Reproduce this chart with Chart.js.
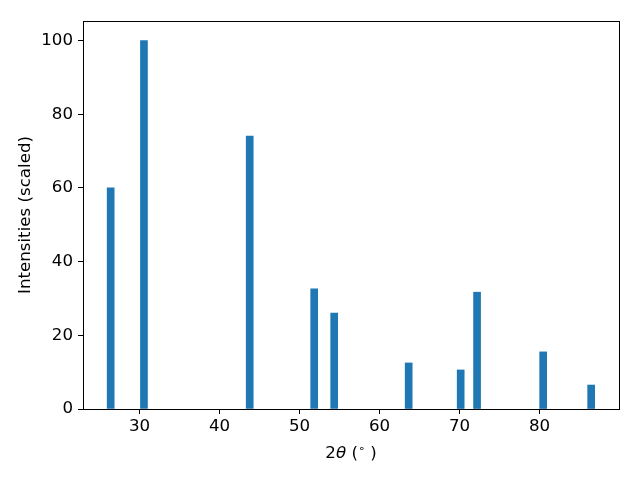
<!DOCTYPE html>
<html>
<head>
<meta charset="utf-8">
<script src="https://cdn.jsdelivr.net/npm/chart.js@4"></script>
<style>
  html, body { margin: 0; padding: 0; background: #fff; }
  #wrap { width: 640px; height: 480px; }
</style>
</head>
<body>
<div id="wrap"><canvas id="xrd"></canvas></div>
<script>
// peak positions (2θ, degrees) and scaled intensities
const twoTheta = [26.4, 30.56, 43.78, 51.84, 54.34, 63.65, 70.15, 72.2, 80.46, 86.46];
const intensity = [60.0, 100, 74.1, 32.6, 26.0, 12.5, 10.6, 31.7, 15.5, 6.5];
const xTicks = [30, 40, 50, 60, 70, 80];
const yTicks = [0, 20, 40, 60, 80, 100];
const xTitle = '2θ (°)';
const yTitle = 'Intensities (scaled)';

const FONT = "'DejaVu Sans', sans-serif";
const FS = 16.67;

// box around the plot + matplotlib style x label (italic θ, raised degree sign)
const frame = {
  id: 'frame',
  afterDraw(chart) {
    const { ctx, chartArea: a } = chart;
    ctx.save();
    ctx.strokeStyle = '#000';
    ctx.lineWidth = 1;
    ctx.strokeRect(Math.round(a.left) + 0.5, Math.round(a.top) + 0.5,
      Math.round(a.right - a.left), Math.round(a.bottom - a.top));

    const parts = [
      { t: '2', f: FS + 'px ' + FONT, dy: 0 },
      { t: 'θ', f: 'italic ' + FS + 'px ' + FONT, dy: 0 },
      { t: ' (', f: FS + 'px ' + FONT, dy: 0 },
      { t: '∘', f: '11px ' + FONT, dy: -6 },
      { t: ' )', f: FS + 'px ' + FONT, dy: 0 },
    ];
    let w = 0;
    parts.forEach(p => { ctx.font = p.f; p.w = ctx.measureText(p.t).width; w += p.w; });
    let x = (a.left + a.right) / 2 - w / 2;
    const y = 458;
    ctx.fillStyle = '#000';
    ctx.textBaseline = 'alphabetic';
    parts.forEach(p => { ctx.font = p.f; ctx.fillText(p.t, x, y + p.dy); x += p.w; });
    ctx.restore();
  }
};

new Chart(document.getElementById('xrd'), {
  type: 'bar',
  data: {
    datasets: [{
      data: twoTheta.map((x, i) => ({ x, y: intensity[i] })),
      backgroundColor: '#1f77b4',
      borderWidth: 0,
      barThickness: 7,
    }]
  },
  options: {
    responsive: true,
    maintainAspectRatio: false,
    animation: false,
    layout: { padding: { top: 21, right: 21, left: 0, bottom: 0 } },
    plugins: { legend: { display: false }, tooltip: { enabled: false } },
    scales: {
      x: {
        type: 'linear',
        offset: false,
        min: 22.94, max: 89.94,
        afterBuildTicks: s => { s.ticks = xTicks.map(v => ({ value: v })); },
        afterFit: s => { s.height = 71; },
        grid: { offset: false, drawOnChartArea: false, drawTicks: true, tickLength: 5, color: '#000' },
        border: { display: false },
        ticks: { color: '#000', font: { family: FONT, size: FS }, padding: 3, maxRotation: 0 },
        title: { display: false, text: xTitle },
      },
      y: {
        min: 0, max: 105.3,
        afterBuildTicks: s => { s.ticks = yTicks.map(v => ({ value: v })); },
        afterFit: s => { s.width = 83; },
        grid: { drawOnChartArea: false, drawTicks: true, tickLength: 5, color: '#000' },
        border: { display: false },
        ticks: { color: '#000', font: { family: FONT, size: FS }, padding: 5 },
        title: { display: true, text: yTitle, color: '#000', font: { family: FONT, size: FS }, padding: { top: 16, bottom: 4 } },
      }
    }
  },
  plugins: [frame]
});
</script>
</body>
</html>
